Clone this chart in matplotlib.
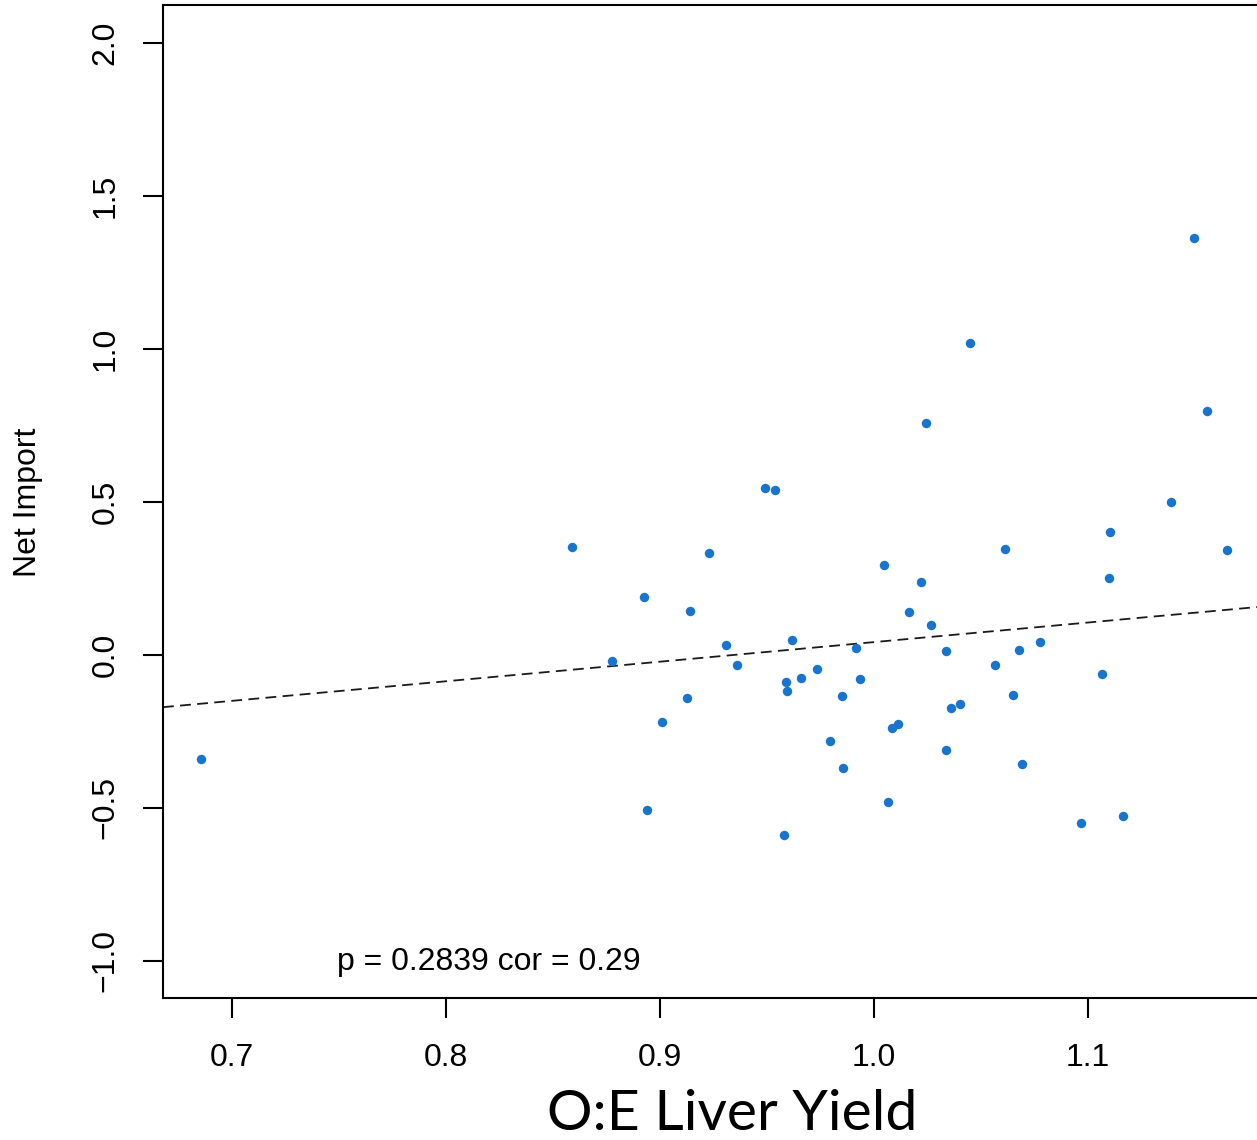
import numpy as np
import matplotlib.pyplot as plt

# O:E liver yield vs net import
oe_yield = [0.6855, 0.8589, 0.8776, 0.8925, 0.8939, 0.9009, 0.9126, 0.9140,
            0.9229, 0.9308, 0.9360, 0.9491, 0.9537, 0.9579, 0.9589, 0.9593,
            0.9617, 0.9659, 0.9734, 0.9794, 0.9850, 0.9855, 0.9916, 0.9935,
            1.0047, 1.0065, 1.0084, 1.0112, 1.0164, 1.0220, 1.0243, 1.0266,
            1.0336, 1.0336, 1.0360, 1.0402, 1.0449, 1.0565, 1.0612, 1.0650,
            1.0678, 1.0692, 1.0776, 1.0967, 1.1065, 1.1098, 1.1103, 1.1164,
            1.1388, 1.1495, 1.1556, 1.1650]
net_import = [-0.340, 0.353, -0.020, 0.190, -0.507, -0.219, -0.141, 0.144,
              0.333, 0.033, -0.033, 0.546, 0.539, -0.588, -0.088, -0.118,
              0.049, -0.075, -0.046, -0.281, -0.134, -0.369, 0.023, -0.078,
              0.294, -0.480, -0.239, -0.225, 0.141, 0.239, 0.758, 0.098,
              0.013, -0.310, -0.173, -0.160, 1.020, -0.033, 0.346, -0.131,
              0.016, -0.356, 0.042, -0.549, -0.062, 0.252, 0.402, -0.526,
              0.500, 1.363, 0.797, 0.343]

# fitted line
fit_intercept = 0.042
fit_slope = 0.64

x_ticks = [0.7, 0.8, 0.9, 1.0, 1.1]
y_ticks = [-1.0, -0.5, 0.0, 0.5, 1.0, 1.5, 2.0]
annot = "p = 0.2839 cor = 0.29"

plt.rcParams['font.family'] = ['Liberation Sans', 'DejaVu Sans']

fig = plt.figure(figsize=(12.57, 11.40), dpi=100)
ax = fig.add_axes([163 / 1257, 1 - 998 / 1140, 1 - 163 / 1257, (998 - 5) / 1140])

xlim = (0.6678, 1.179)
ax.set_xlim(*xlim)
ax.set_ylim(-1.121, 2.124)

ax.plot(oe_yield, net_import, 'o', color='#1874CD', markersize=6.8,
        markeredgewidth=0, zorder=3)

xs = np.array(xlim)
ax.plot(xs, fit_intercept + fit_slope * (xs - 1.0), color='#1a1a1a',
        linestyle=(0, (6, 3.5)), linewidth=1.3)

ax.text(0.749, -1.003, annot, fontsize=23, va='center', ha='left')

def fmt(t):
    return f'{t:.1f}'.replace('-', '\u2212')

ax.set_xticks(x_ticks)
ax.set_xticklabels([fmt(t) for t in x_ticks])
ax.set_yticks(y_ticks)
ax.set_yticklabels([fmt(t) for t in y_ticks], rotation=90, va='center')
ax.tick_params(axis='both', length=14.4, width=1.5, labelsize=23)
ax.tick_params(axis='x', pad=18)
ax.tick_params(axis='y', pad=16)

for side in ['left', 'bottom', 'top']:
    ax.spines[side].set_linewidth(1.5)
ax.spines['right'].set_visible(False)

fig.text(28 / 1257, 1 - 502 / 1140, 'Net Import', rotation=90, fontsize=23,
         ha='center', va='center')
fig.text(732 / 1257, 1 - 1114 / 1140, 'O:E Liver Yield', fontsize=41,
         family=['Lato', 'DejaVu Sans'], ha='center', va='center')

fig.savefig('out.png', dpi=100)
